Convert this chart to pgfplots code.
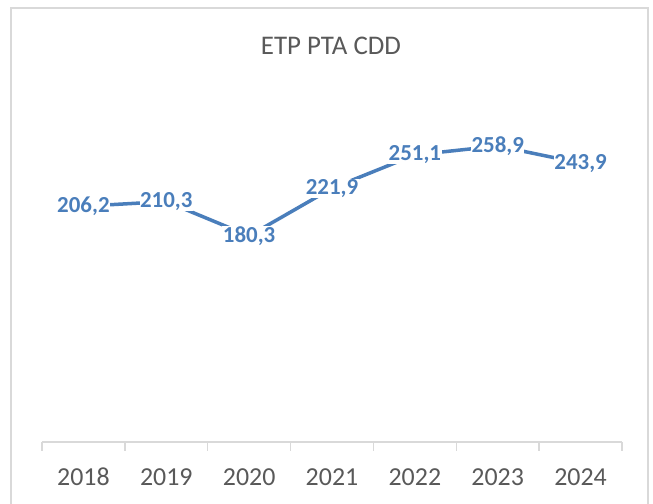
\documentclass[border=0pt]{standalone}
\usepackage{fontspec}
\setmainfont{Carlito}
\usepackage{pgfplots}
\pgfplotsset{compat=1.18}
\definecolor{lineblue}{RGB}{74,126,187}
\definecolor{txtgray}{RGB}{89,89,89}
\definecolor{bordergray}{RGB}{217,217,217}
\begin{document}
\begin{tikzpicture}[x=1bp,y=1bp]
\useasboundingbox (0,0) rectangle (653,504);
\fill[white] (0,0) rectangle (653,504);
\draw[bordergray, line width=1.5bp] (11,-5) -- (11,496) -- (648,496) -- (648,-5);
\node[txtgray, font=\fontsize{27}{30}\selectfont] at (331,458) {ETP PTA CDD};
\begin{axis}[
  at={(42bp,62bp)}, anchor=south west,
  scale only axis, width=580bp, height=343bp,
  xmin=-0.5, xmax=6.5, ymin=0, ymax=300,
  clip=false,
  axis x line=bottom, axis y line=none,
  x axis line style={-, draw=bordergray, line width=1.5bp},
  xtick={0,...,6}, xticklabels={2018,2019,2020,2021,2022,2023,2024},
  major tick length=0pt,
  minor xtick={-0.5,0.5,...,6.5}, minor tick length=9bp, tick align=outside,
  minor tick style={draw=bordergray, line width=1.5bp},
  xticklabel style={txtgray, font=\fontsize{26}{28}\selectfont, anchor=center, yshift=-35bp},
  ytick=\empty,
]
\addplot[lineblue, line width=3.5bp, line cap=round, line join=round, mark=none,
  nodes near coords, point meta=explicit symbolic,
  every node near coord/.append style={anchor=center, fill=white, inner sep=0.5bp,
    font=\bfseries\fontsize{23}{25}\selectfont, text=lineblue}]
  table[x=x, y=y, meta=label] {
x y label
0 206.2 206,2
1 210.3 210,3
2 180.3 180,3
3 221.9 221,9
4 251.1 251,1
5 258.9 258,9
6 243.9 243,9
};
\end{axis}
\end{tikzpicture}
\end{document}
